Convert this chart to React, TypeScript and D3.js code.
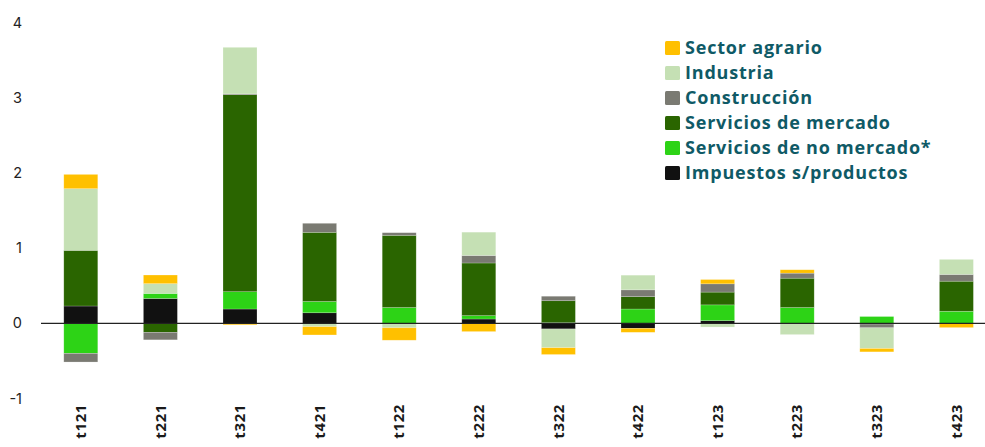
import React, { useRef, useEffect } from 'react'
import * as d3 from 'd3'

// trimestres
const quarters = ['t121', 't221', 't321', 't421', 't122', 't222', 't322', 't422', 't123', 't223', 't323', 't423']

// aportaciones por rama (puntos porcentuales)
const impuestos = [0.23, 0.33, 0.19, 0.14, 0, 0.057, -0.075, -0.067, 0.035, 0, -0.01, 0]
const noMercado = [-0.40, 0.067, 0.23, 0.15, 0.21, 0.045, 0.01, 0.19, 0.21, 0.21, 0.09, 0.16]
const mercado = [0.74, -0.12, 2.62, 0.92, 0.96, 0.70, 0.29, 0.165, 0.17, 0.39, 0, 0.40]
const construccion = [-0.115, -0.10, 0.01, 0.12, 0.035, 0.10, 0.06, 0.09, 0.11, 0.067, -0.05, 0.09]
const industria = [0.82, 0.13, 0.62, -0.045, -0.06, 0.31, -0.25, 0.195, -0.05, -0.15, -0.275, 0.20]
const agrario = [0.19, 0.115, -0.02, -0.11, -0.165, -0.11, -0.09, -0.053, 0.057, 0.045, -0.045, -0.057]

const yTicks = [-1, 0, 1, 2, 3, 4]

// orden de apilado, de abajo arriba
const series = [
  { key: 'imp', name: 'Impuestos s/productos', values: impuestos, color: '#111111' },
  { key: 'nom', name: 'Servicios de no mercado*', values: noMercado, color: '#2dd316' },
  { key: 'mer', name: 'Servicios de mercado', values: mercado, color: '#2a6500' },
  { key: 'con', name: 'Construcción', values: construccion, color: '#7a7a72' },
  { key: 'ind', name: 'Industria', values: industria, color: '#c5e0b4' },
  { key: 'agr', name: 'Sector agrario', values: agrario, color: '#ffc000' },
]

const W = 985
const H = 447

export default function App() {
  const ref = useRef<SVGSVGElement>(null)

  useEffect(() => {
    const svg = d3.select(ref.current)
    svg.selectAll('*').remove()

    const rows = quarters.map((q, i) => {
      const r: any = { q }
      series.forEach(s => { r[s.key] = s.values[i] })
      return r
    })

    const x = d3.scaleBand()
      .domain(quarters)
      .range([41, 41 + 12 * 79.6])
      .paddingInner(0.573)
      .paddingOuter(0.2865)

    const y = d3.scaleLinear()
      .domain([-1, 4])
      .range([398.5, 22.5])

    const stack = d3.stack()
      .keys(series.map(s => s.key))
      .offset(d3.stackOffsetDiverging)
    const stacked = stack(rows)

    // barras
    svg.append('g')
      .selectAll('g')
      .data(stacked)
      .enter()
      .append('g')
      .attr('fill', (d, i) => series[i].color)
      .selectAll('rect')
      .data(d => d)
      .enter()
      .append('rect')
      .attr('x', (d: any) => x(d.data.q))
      .attr('width', x.bandwidth())
      .attr('y', d => y(Math.max(d[0], d[1])))
      .attr('height', d => Math.abs(y(d[0]) - y(d[1])))
      .attr('stroke', 'rgba(255,255,255,0.35)')
      .attr('stroke-width', 0.6)

    // línea de cero
    svg.append('line')
      .attr('x1', 41)
      .attr('x2', 985)
      .attr('y1', y(0))
      .attr('y2', y(0))
      .attr('stroke', '#222')
      .attr('stroke-width', 1.3)

    // eje y
    svg.append('g')
      .selectAll('text')
      .data(yTicks)
      .enter()
      .append('text')
      .attr('x', 22)
      .attr('y', d => y(d))
      .attr('dy', '0.35em')
      .attr('text-anchor', 'end')
      .attr('font-family', 'Inter, sans-serif')
      .attr('font-size', 14.5)
      .attr('fill', '#222')
      .text(d => d)

    // etiquetas x
    svg.append('g')
      .selectAll('text')
      .data(quarters)
      .enter()
      .append('text')
      .attr('transform', d => `translate(${x(d)! + x.bandwidth() / 2},404) rotate(-90)`)
      .attr('dy', '0.35em')
      .attr('text-anchor', 'end')
      .attr('font-family', '"Open Sans", sans-serif')
      .attr('font-weight', 700)
      .attr('font-size', 15)
      .attr('letter-spacing', 0.6)
      .attr('fill', '#1a1a1a')
      .text(d => d)

    // leyenda
    const legend = svg.append('g')
      .selectAll('g')
      .data(series.slice().reverse())
      .enter()
      .append('g')
      .attr('transform', (d, i) => `translate(665,${48 + i * 25})`)

    legend.append('rect')
      .attr('x', 0)
      .attr('y', -7)
      .attr('width', 15)
      .attr('height', 14)
      .attr('rx', 1.5)
      .attr('fill', d => d.color)

    legend.append('text')
      .attr('x', 20)
      .attr('dy', '0.35em')
      .attr('font-family', '"Open Sans", sans-serif')
      .attr('font-weight', 700)
      .attr('font-size', 18)
      .attr('letter-spacing', 0.8)
      .attr('fill', '#0f5a66')
      .text(d => d.name)
  }, [])

  return (
    <svg
      ref={ref}
      width={W}
      height={H}
      style={{ position: 'absolute', left: 0, top: 0, background: '#fff' }}
    />
  )
}
